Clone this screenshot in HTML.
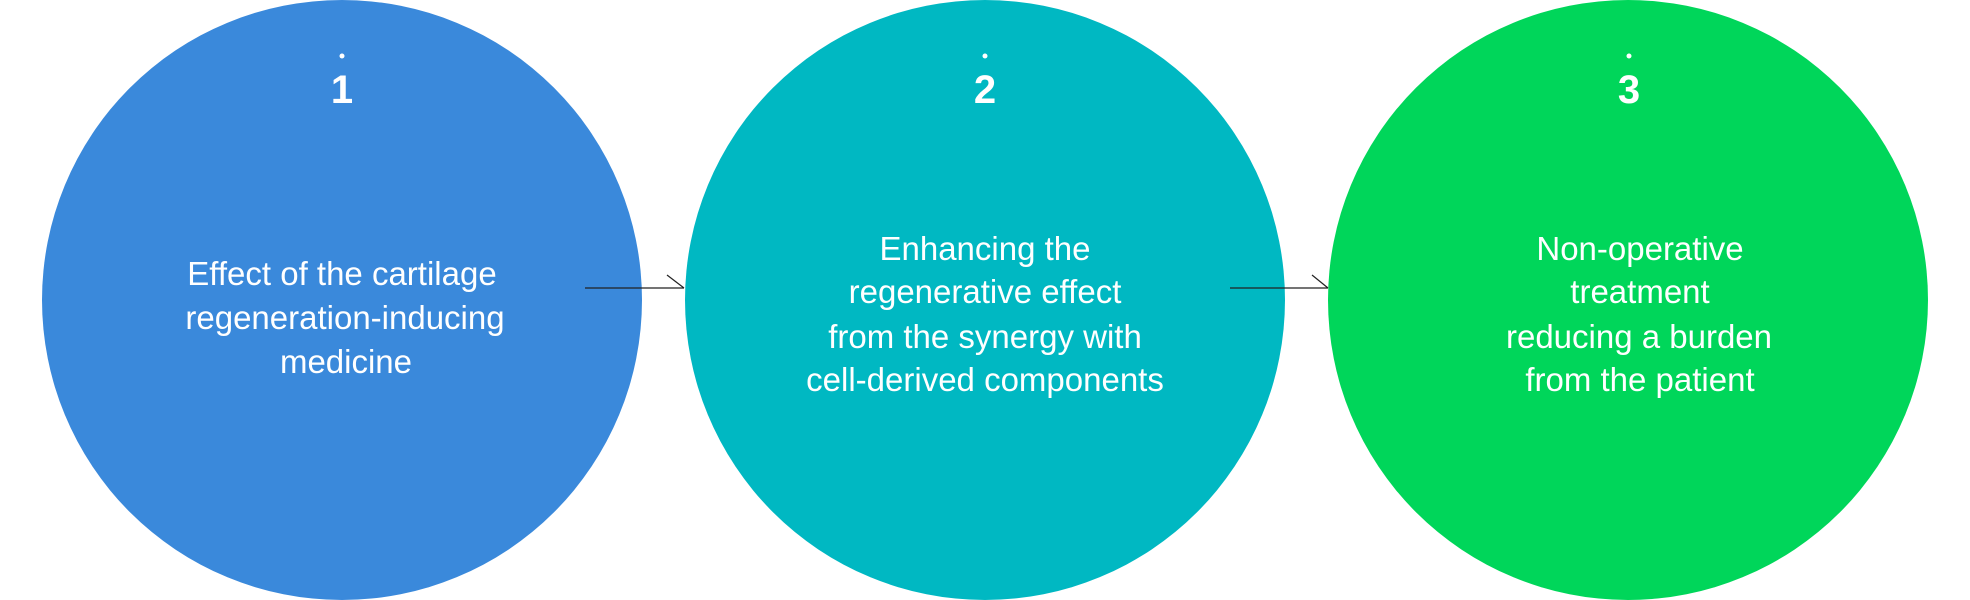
<!DOCTYPE html>
<html><head><meta charset="utf-8"><style>
html,body{margin:0;padding:0;background:#fff;}
svg{display:block;}
text{font-family:"Liberation Sans",sans-serif;fill:#fff;text-anchor:middle;}
</style></head><body>
<svg width="1970" height="600" viewBox="0 0 1970 600">
<g>
<ellipse cx="342" cy="300" rx="300" ry="300" fill="#3a89db"/>
<circle cx="342" cy="56" r="2.5" fill="#fff"/>
<text x="342" y="103" font-size="40" font-weight="bold">1</text>
<text font-size="33"><tspan x="342" y="285">Effect of the cartilage</tspan><tspan x="345" y="329">regeneration-inducing</tspan><tspan x="346" y="373">medicine</tspan></text>
</g>
<g>
<ellipse cx="985" cy="300" rx="300" ry="300" fill="#00b8c2"/>
<circle cx="985" cy="56" r="2.5" fill="#fff"/>
<text x="985" y="103" font-size="40" font-weight="bold">2</text>
<text font-size="33"><tspan x="985" y="260">Enhancing the</tspan><tspan x="985" y="303">regenerative effect</tspan><tspan x="985" y="348">from the synergy with</tspan><tspan x="985" y="391">cell-derived components</tspan></text>
</g>
<g>
<ellipse cx="1628" cy="300" rx="300" ry="300" fill="#00d65a"/>
<circle cx="1629" cy="56" r="2.5" fill="#fff"/>
<text x="1629" y="103" font-size="40" font-weight="bold">3</text>
<text font-size="33"><tspan x="1640" y="260">Non-operative</tspan><tspan x="1640" y="303">treatment</tspan><tspan x="1639" y="348">reducing a burden</tspan><tspan x="1640" y="391">from the patient</tspan></text>
</g>
<g stroke="#222" stroke-width="1.2" fill="none">
<line x1="585" y1="288" x2="684" y2="288"/>
<line x1="667" y1="275" x2="684" y2="288"/>
</g>
<g stroke="#222" stroke-width="1.2" fill="none">
<line x1="1230" y1="288" x2="1328" y2="288"/>
<line x1="1312" y1="275" x2="1328" y2="288"/>
</g>
</svg>
</body></html>
